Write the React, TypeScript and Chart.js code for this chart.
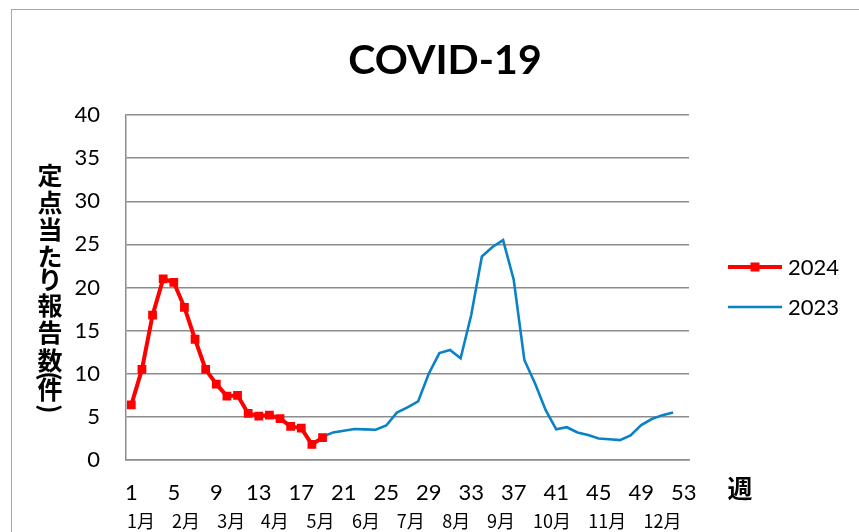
import React, { useEffect, useRef } from "react";
import { Chart, registerables } from "chart.js";

Chart.register(...registerables);

const WEEKS: string[] = Array.from({ length: 53 }, (_, i) => String(i + 1));

const DATA_2024: number[] = [
  6.4, 10.5, 16.8, 21.0, 20.6, 17.7, 14.0, 10.5, 8.8, 7.4,
  7.5, 5.4, 5.1, 5.2, 4.8, 3.9, 3.7, 1.8, 2.6,
];

const DATA_2023: (number | null)[] = [
  null, null, null, null, null, null, null, null, null, null,
  null, null, null, null, null, null, null, null,
  2.7, 3.2, 3.4, 3.6, 3.55, 3.5, 4.0, 5.5, 6.1, 6.8,
  10.0, 12.4, 12.75, 11.8, 16.8, 23.6, 24.7, 25.5, 20.9, 11.6,
  8.9, 5.8, 3.55, 3.8, 3.2, 2.9, 2.5, 2.4, 2.3, 2.85,
  4.05, 4.75, 5.2, 5.5, null,
];

const SERIES_NAMES = ["2024", "2023"];
const MONTH_LABELS = ["1月", "2月", "3月", "4月", "5月", "6月", "7月", "8月", "9月", "10月", "11月", "12月"];
// text anchor positions of the month labels, in (fractional) week numbers
const MONTH_ANCHOR_WEEK = [1.91, 6.15, 10.4, 14.5, 18.8, 23.1, 27.3, 31.6, 35.8, 40.6, 45.8, 51.0];
const TITLE = "COVID-19";
const Y_TITLE = "定点当たり報告数(件)";
const X_TITLE = "週";
const Y_MIN = 0;
const Y_MAX = 40;
const Y_STEP = 5;

const RED = "#FF0000";
const BLUE = "#0A82C6";
const GRID = "#8C8C8C";
const JP = "'Noto Sans CJK JP', sans-serif";
const LAT = "Lato, 'Open Sans', sans-serif";

const W = 847;
const H = 522;

const overlay = {
  id: "overlay",
  afterDraw(chart: any) {
    const ctx = chart.ctx as CanvasRenderingContext2D;
    ctx.save();
    ctx.fillStyle = "#000";

    // Title
    ctx.font = `bold 41px ${LAT}`;
    ctx.textAlign = "center";
    ctx.textBaseline = "middle";
    ctx.fillText(TITLE, 433, 51);

    // Y title stacked
    ctx.font = `bold 25px ${JP}`;
    const ys = [165, 192, 219, 246, 269, 295, 322, 350, 366, 379, 399];
    const chars = Array.from(Y_TITLE);
    chars.forEach((c, i) => {
      const y = ys[i] ?? ys[ys.length - 1] + (i - ys.length + 1) * 26;
      if (c === "(" || c === ")") {
        ctx.save();
        ctx.translate(38, y);
        ctx.rotate(Math.PI / 2);
        ctx.fillText(c, 0, 0);
        ctx.restore();
      } else {
        ctx.fillText(c, 38, y);
      }
    });

    // X title
    ctx.font = `bold 25px ${JP}`;
    ctx.fillText(X_TITLE, 728, 478);

    // Month labels
    const xs = chart.scales.x;
    ctx.font = `18px ${JP}`;
    MONTH_LABELS.forEach((m, i) => {
      const px = xs.getPixelForValue(MONTH_ANCHOR_WEEK[i] - 1);
      ctx.fillText(m, px - 12 + 12, 511);
    });

    // Legend
    const lx1 = 716, lx2 = 770, tx = 776;
    const ly = [257, 297];
    ctx.lineCap = "butt";
    ctx.strokeStyle = RED;
    ctx.lineWidth = 4;
    ctx.beginPath();
    ctx.moveTo(lx1, ly[0]);
    ctx.lineTo(lx2, ly[0]);
    ctx.stroke();
    ctx.fillStyle = RED;
    ctx.fillRect(743 - 4.5, ly[0] - 4.5, 9, 9);
    ctx.strokeStyle = BLUE;
    ctx.lineWidth = 2.5;
    ctx.beginPath();
    ctx.moveTo(lx1, ly[1]);
    ctx.lineTo(lx2, ly[1]);
    ctx.stroke();
    ctx.fillStyle = "#000";
    ctx.font = `22px ${LAT}`;
    ctx.textAlign = "left";
    ctx.fillText(SERIES_NAMES[0], tx, ly[0] + 1);
    ctx.fillText(SERIES_NAMES[1], tx, ly[1] + 1);

    ctx.restore();
  },
};

export default function App() {
  const ref = useRef<HTMLCanvasElement | null>(null);

  useEffect(() => {
    document.documentElement.style.overflow = "hidden";
    document.body.style.overflow = "hidden";
    const canvas = ref.current;
    if (!canvas) return;
    const chart = new Chart(canvas, {
      type: "line",
      data: {
        labels: WEEKS,
        datasets: [
          {
            label: SERIES_NAMES[0],
            data: DATA_2024,
            borderColor: RED,
            backgroundColor: RED,
            borderWidth: 4,
            pointStyle: "rect",
            pointRadius: 6.2,
            pointBorderWidth: 0,
            pointBackgroundColor: RED,
            tension: 0,
          },
          {
            label: SERIES_NAMES[1],
            data: DATA_2023,
            borderColor: BLUE,
            backgroundColor: BLUE,
            borderWidth: 2.6,
            pointRadius: 0,
            tension: 0,
            spanGaps: false,
          },
        ],
      },
      options: {
        responsive: false,
        animation: false,
        events: [],
        layout: { padding: { top: 105, left: 0, right: 170, bottom: 0 } },
        plugins: {
          legend: { display: false },
          title: { display: false },
          tooltip: { enabled: false },
        },
        scales: {
          x: {
            type: "category",
            offset: true,
            grid: { display: false, drawTicks: false },
            border: { display: true, color: GRID, width: 1.5 },
            ticks: {
              autoSkip: false,
              maxRotation: 0,
              minRotation: 0,
              padding: 20,
              color: "#000",
              font: { family: LAT, size: 22 },
              callback: (_v: any, i: number) => (i % 4 === 0 ? WEEKS[i] : ""),
            },
            afterFit: (s: any) => {
              s.height = 72;
            },
          },
          y: {
            min: Y_MIN,
            max: Y_MAX,
            grid: { color: GRID, lineWidth: 1.5, drawTicks: false },
            border: { display: true, color: GRID, width: 1.5 },
            ticks: {
              stepSize: Y_STEP,
              padding: 26,
              color: "#000",
              font: { family: LAT, size: 22 },
            },
            afterFit: (s: any) => {
              s.width = 114;
            },
          },
        },
      },
      plugins: [overlay],
    } as any);
    return () => chart.destroy();
  }, []);

  return (
    <div
      style={{
        position: "absolute",
        left: 11,
        top: 9,
        width: W,
        height: H,
        borderTop: "1px solid #A6A6A6",
        borderLeft: "1px solid #A6A6A6",
        background: "#fff",
      }}
    >
      <canvas ref={ref} width={W} height={H} style={{ display: "block", width: W, height: H }} />
    </div>
  );
}
